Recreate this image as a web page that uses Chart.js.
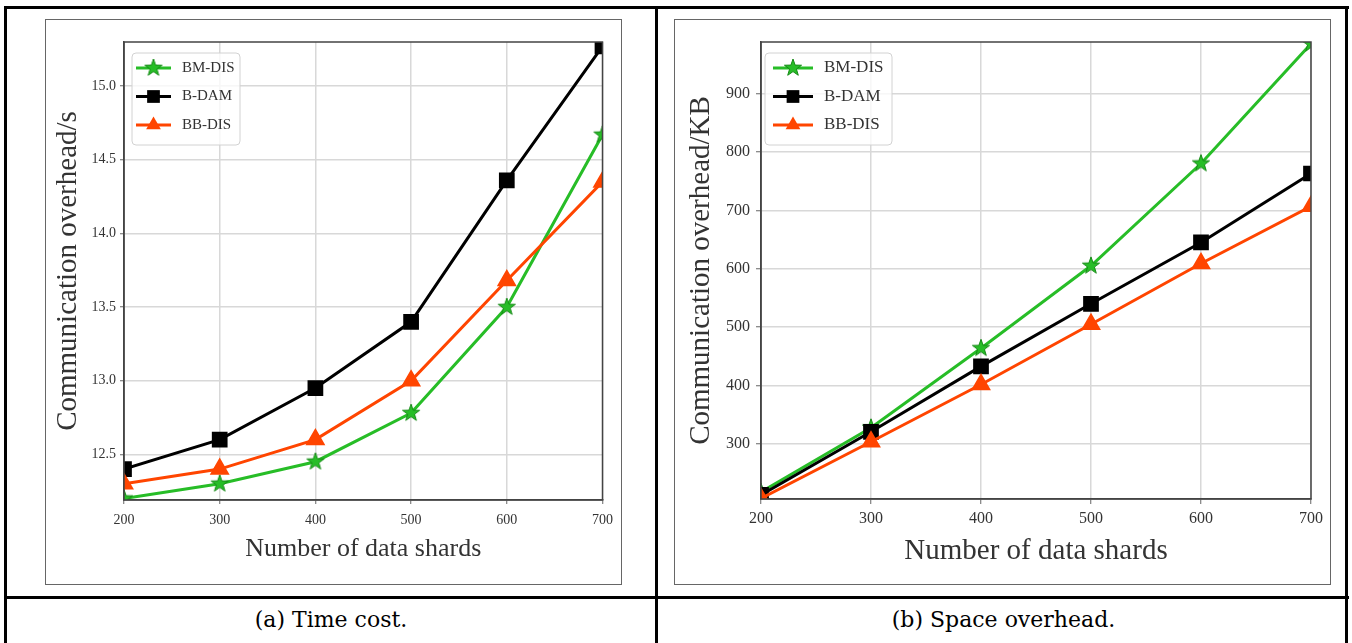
<!DOCTYPE html>
<html>
<head>
<meta charset="utf-8">
<title>Communication overhead</title>
<script src="https://cdn.jsdelivr.net/npm/chart.js@4.4.1/dist/chart.umd.min.js"></script>
<style>
  body { margin: 0; background: #fff; width: 1352px; height: 643px; overflow: hidden; position: relative; }
  .rule { position: absolute; background: #000; }
  .frame { position: absolute; border: 1px solid #666; background: #fff; }
  .frame canvas { position: absolute; left: 0; top: 0; }
  .caption { position: absolute; top: 606px; height: 28px; line-height: 28px; font-family: 'DejaVu Serif', serif; font-size: 22px; color: #000; text-align: center; }
</style>
</head>
<body>
<!-- table rules -->
<div class="rule" style="left:4px;top:6px;width:1345px;height:3px"></div>
<div class="rule" style="left:4px;top:6px;width:3px;height:700px"></div>
<div class="rule" style="left:1345px;top:6px;width:3px;height:700px"></div>
<div class="rule" style="left:655px;top:6px;width:3px;height:700px"></div>
<div class="rule" style="left:4px;top:596px;width:1345px;height:3px"></div>

<div class="frame" style="left:45px;top:19px;width:575px;height:564px">
  <canvas id="timeChart" width="575" height="564"></canvas>
</div>
<div class="frame" style="left:674px;top:19px;width:655px;height:564px">
  <canvas id="spaceChart" width="655" height="564"></canvas>
</div>

<div class="caption" style="left:7px;width:648px">(a) Time cost.</div>
<div class="caption" style="left:660px;width:687px">(b) Space overhead.</div>

<script>
// du lieu
const shards = [200, 300, 400, 500, 600, 700]
const seriesNames = ['BM-DIS', 'B-DAM', 'BB-DIS']

// (a) time cost, seconds
const timeBM = [12.2, 12.3, 12.45, 12.78, 13.5, 14.67]
const timeBD = [12.4, 12.6, 12.95, 13.4, 14.36, 15.27]
const timeBB = [12.3, 12.4, 12.6, 13.0, 13.68, 14.35]
const timeTicks = [12.5, 13.0, 13.5, 14.0, 14.5, 15.0]

// (b) space overhead, KB
const spaceBM = [218, 328, 464, 605, 780, 985]
const spaceBD = [213, 321, 433, 540, 645, 763]
const spaceBB = [207, 304, 402, 505, 609, 707]
const spaceTicks = [300, 400, 500, 600, 700, 800, 900]

const green = '#27bd27'
const black = '#000000'
const orange = '#ff4500'
const serif = "'Liberation Serif', 'Times New Roman', serif"
const textColor = '#333'

const makeStar = (fill, edge, r) => {
    const c = document.createElement('canvas')
    const s = Math.ceil(r * 2 + 2)
    c.width = s
    c.height = s
    const g = c.getContext('2d')
    g.beginPath()
    for (let i = 0; i < 10; i++) {
        const rad = i % 2 === 0 ? r : r * 0.4
        const a = -Math.PI / 2 + i * Math.PI / 5
        const px = s / 2 + rad * Math.cos(a)
        const py = s / 2 + rad * Math.sin(a)
        if (i === 0) g.moveTo(px, py)
        else g.lineTo(px, py)
    }
    g.closePath()
    g.fillStyle = fill
    g.fill()
    g.strokeStyle = edge
    g.lineWidth = 1
    g.stroke()
    return c
}
const star = makeStar(green, '#168a16', 9)

const toPoints = (vals) => shards.map((x, i) => ({ x: x, y: vals[i] }))

const makeDatasets = (bm, bd, bb) => [
    { label: seriesNames[0], data: toPoints(bm), borderColor: green, backgroundColor: green,
      pointStyle: star, pointRadius: 9, borderWidth: 3, order: 3 },
    { label: seriesNames[1], data: toPoints(bd), borderColor: black, backgroundColor: black,
      pointStyle: 'rect', pointRadius: 9, borderWidth: 3, order: 2 },
    { label: seriesNames[2], data: toPoints(bb), borderColor: orange, backgroundColor: orange,
      pointStyle: 'triangle', pointRadius: 8.5, borderWidth: 3, order: 1 }
]

// matplotlib style box round the plot
const axesBox = {
    id: 'axesBox',
    afterDatasetsDraw(chart) {
        const { ctx, chartArea: a } = chart
        ctx.save()
        ctx.strokeStyle = '#444'
        ctx.lineWidth = 1.5
        ctx.strokeRect(a.left, a.top, a.right - a.left, a.bottom - a.top)
        ctx.restore()
    }
}

const drawMarker = (ctx, ds, x, y) => {
    ctx.fillStyle = ds.backgroundColor
    if (ds.pointStyle instanceof HTMLCanvasElement) {
        ctx.drawImage(ds.pointStyle, x - ds.pointStyle.width / 2, y - ds.pointStyle.height / 2)
    } else if (ds.pointStyle === 'rect') {
        const h = ds.pointRadius * Math.SQRT1_2
        ctx.fillRect(x - h, y - h, 2 * h, 2 * h)
    } else {
        const r = ds.pointRadius
        ctx.beginPath()
        ctx.moveTo(x, y - r)
        ctx.lineTo(x + r * Math.sin(2 * Math.PI / 3), y - r * Math.cos(2 * Math.PI / 3))
        ctx.lineTo(x + r * Math.sin(4 * Math.PI / 3), y - r * Math.cos(4 * Math.PI / 3))
        ctx.closePath()
        ctx.fill()
    }
}

// legend inside the plot, line + marker like matplotlib
const insideLegend = {
    id: 'insideLegend',
    afterDraw(chart, args, o) {
        const { ctx, chartArea: a } = chart
        const x0 = a.left + o.dx
        const y0 = a.top + o.dy
        ctx.save()
        ctx.fillStyle = 'rgba(255,255,255,0.8)'
        ctx.strokeStyle = '#d2d2d2'
        ctx.lineWidth = 1
        ctx.beginPath()
        ctx.roundRect(x0, y0, o.w, o.h, 4)
        ctx.fill()
        ctx.stroke()
        chart.data.datasets.forEach((ds, i) => {
            const y = y0 + o.first + i * o.rowH
            ctx.strokeStyle = ds.borderColor
            ctx.lineWidth = 3
            ctx.beginPath()
            ctx.moveTo(x0 + o.lineX, y)
            ctx.lineTo(x0 + o.lineX + o.lineLen, y)
            ctx.stroke()
            drawMarker(ctx, ds, x0 + o.lineX + o.lineLen / 2, y)
            ctx.fillStyle = textColor
            ctx.font = `${o.fontSize}px ${serif}`
            ctx.textBaseline = 'middle'
            ctx.textAlign = 'left'
            ctx.fillText(ds.label, x0 + o.textX, y)
        })
        ctx.restore()
    }
}

const showChart = (id, datasets, cfg) => {
    const ctx = document.getElementById(id).getContext('2d')
    return new Chart(ctx, {
        type: 'line',
        data: { datasets: datasets },
        options: {
            responsive: false,
            animation: false,
            events: [],
            layout: { padding: { top: cfg.top, right: cfg.right, left: 0, bottom: 0 } },
            elements: { line: { tension: 0 }, point: { borderWidth: 1 } },
            plugins: {
                legend: { display: false },
                tooltip: { enabled: false },
                insideLegend: cfg.legend
            },
            scales: {
                x: {
                    type: 'linear',
                    min: 200,
                    max: 700,
                    afterBuildTicks: s => { s.ticks = shards.map(v => ({ value: v })) },
                    afterFit: s => { s.height = cfg.xHeight },
                    ticks: { font: { family: serif, size: cfg.tickSize }, color: textColor, padding: cfg.xPad, maxRotation: 0 },
                    grid: { color: '#d8d8d8', lineWidth: 1.5, tickLength: cfg.tickLen, tickColor: '#666', tickWidth: 1 },
                    border: { color: '#444', width: 1.5 },
                    title: {
                        display: true, text: 'Number of data shards', color: textColor,
                        font: { family: serif, size: cfg.xTitleSize, lineHeight: 1 },
                        padding: { top: 0, bottom: cfg.xTitlePad }
                    }
                },
                y: {
                    min: cfg.yMin,
                    max: cfg.yMax,
                    afterBuildTicks: s => { s.ticks = cfg.yTicks.map(v => ({ value: v })) },
                    afterFit: s => { s.width = cfg.yWidth },
                    ticks: { font: { family: serif, size: cfg.tickSize }, color: textColor, padding: cfg.yPad, callback: cfg.fmt },
                    grid: { color: '#d8d8d8', lineWidth: 1.5, tickLength: cfg.tickLen, tickColor: '#666', tickWidth: 1 },
                    border: { color: '#444', width: 1.5 },
                    title: {
                        display: true, text: cfg.yTitle, color: textColor,
                        font: { family: serif, size: 29, lineHeight: 1 },
                        padding: { top: cfg.yTitlePad, bottom: 0 }
                    }
                }
            }
        },
        plugins: [axesBox, insideLegend]
    })
}

window.onload = function () {
    // (a) hinh ben trai
    showChart('timeChart', makeDatasets(timeBM, timeBD, timeBB), {
        top: 22, right: 15, xHeight: 84, yWidth: 78,
        tickSize: 14, tickLen: 4, xPad: 8, yPad: 4,
        xTitleSize: 26, xTitlePad: 22, yTitlePad: 8,
        yMin: 12.19, yMax: 15.3, yTicks: timeTicks, fmt: v => v.toFixed(1),
        yTitle: 'Communication overhead/s',
        legend: { dx: 8, dy: 11, w: 108, h: 92, first: 15, rowH: 28.5, lineX: 4, lineLen: 35, textX: 50, fontSize: 15 }
    })
    // (b) hinh ben phai
    showChart('spaceChart', makeDatasets(spaceBM, spaceBD, spaceBB), {
        top: 22, right: 19, xHeight: 85, yWidth: 86,
        tickSize: 16, tickLen: 5, xPad: 5, yPad: 6,
        xTitleSize: 29, xTitlePad: 18, yTitlePad: 12,
        yMin: 206, yMax: 988, yTicks: spaceTicks, fmt: v => String(v),
        yTitle: 'Communication overhead/KB',
        legend: { dx: 4, dy: 11, w: 127, h: 92, first: 15, rowH: 28.5, lineX: 8, lineLen: 40, textX: 59, fontSize: 17 }
    })
}
</script>
</body>
</html>
